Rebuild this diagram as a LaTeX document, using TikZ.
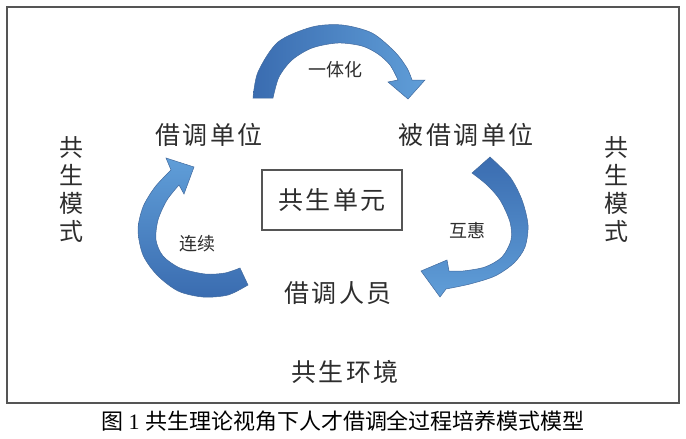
\documentclass[tikz,border=0pt]{standalone}
\usepackage{fontspec}
\setmainfont{Liberation Serif}
\newfontfamily\cjk{Noto Sans CJK SC}
\newfontfamily\cjkwide[LetterSpace=10]{Noto Sans CJK SC}
\usepackage{xcolor}
\usepackage{tikz}
\definecolor{framegray}{RGB}{85, 85, 85}
\definecolor{textgray}{RGB}{45, 45, 45}
\definecolor{arrowdark}{RGB}{58, 108, 176}
\definecolor{arrowlight}{RGB}{96, 158, 216}
\definecolor{arrowedge}{RGB}{66, 106, 158}

\begin{document}
\begin{tikzpicture}[
    x=1pt, y=-1pt,
    unitname/.style={font=\cjkwide\fontsize{25}{25}\selectfont, text=textgray, inner sep=0pt},
    sidetext/.style={font=\cjk\fontsize{24}{28}\selectfont, text=textgray, align=center, inner sep=0pt},
    linktext/.style={font=\cjk\fontsize{18}{18}\selectfont, text=textgray, inner sep=0pt},
    unitbox/.style={draw=framegray, line width=1.2pt, minimum width=140pt, minimum height=60pt},
    bandarrow/.style={draw=arrowedge, line width=0.5pt}
]
    \useasboundingbox (0,0) rectangle (686,439);

    % Environment frame
    \draw[framegray, line width=1.5pt] (7,7) rectangle (679,403);

    % Curved arrows
    \shade[bandarrow, left color=arrowdark, right color=arrowlight]
        plot[smooth] coordinates {(253,98) (258,72) (278,42) (312,27) (342,25) (372,33) (395,52) (407,68) (412,80)}
        -- (425,80) -- (408,99) -- (388,82)
        -- plot[smooth] coordinates {(398,80) (390,65) (378,54) (362,46) (338,43) (312,48) (292,60) (279,77) (273,98)}
        -- cycle;
    \shade[bandarrow, top color=arrowlight, bottom color=arrowdark]
        plot[smooth] coordinates {(248,285) (228,295) (203,297) (178,291) (157,275) (143,255) (138,230) (143,207) (155,187) (171,170)}
        -- (166,158) -- (194,167) -- (184,194)
        -- plot[smooth] coordinates {(179,185) (167,200) (158,220) (156,240) (163,256) (180,268) (205,274) (225,273) (240,268)}
        -- cycle;
    \shade[bandarrow, top color=arrowdark, bottom color=arrowlight]
        plot[smooth] coordinates {(490,157) (510,177) (522,200) (528,225) (525,247) (514,263) (495,276) (470,284) (446,289)}
        -- (440,297) -- (421,271) -- (447,260)
        -- plot[smooth] coordinates {(449,271) (463,271) (485,267) (502,257) (511,240) (510,222) (500,200) (487,185) (472,173)}
        -- cycle;

    % Units
    \node[unitname] (lender) at (209,135) {借调单位};
    \node[unitname] (borrower) at (466,135) {被借调单位};
    \node[unitname] (staff) at (338,293) {借调人员};
    \node[unitname, unitbox] (unit) at (332,200) {共生单元};
    \node[unitname] (env) at (345,372) {共生环境};

    % Mode labels
    \node[sidetext] (modeleft) at (71,190) {共\\生\\模\\式};
    \node[sidetext] (moderight) at (616,190) {共\\生\\模\\式};

    % Arrow labels
    \node[linktext] (integration) at (335,70) {一体化};
    \node[linktext] (continuity) at (197,244) {连续};
    \node[linktext] (mutual) at (467,231) {互惠};

    % Caption
    \node[font=\fontsize{22}{22}\selectfont] (caption) at (343,421) {{\cjk 图} 1 {\cjk 共生理论视角下人才借调全过程培养模式模型}};
\end{tikzpicture}
\end{document}
